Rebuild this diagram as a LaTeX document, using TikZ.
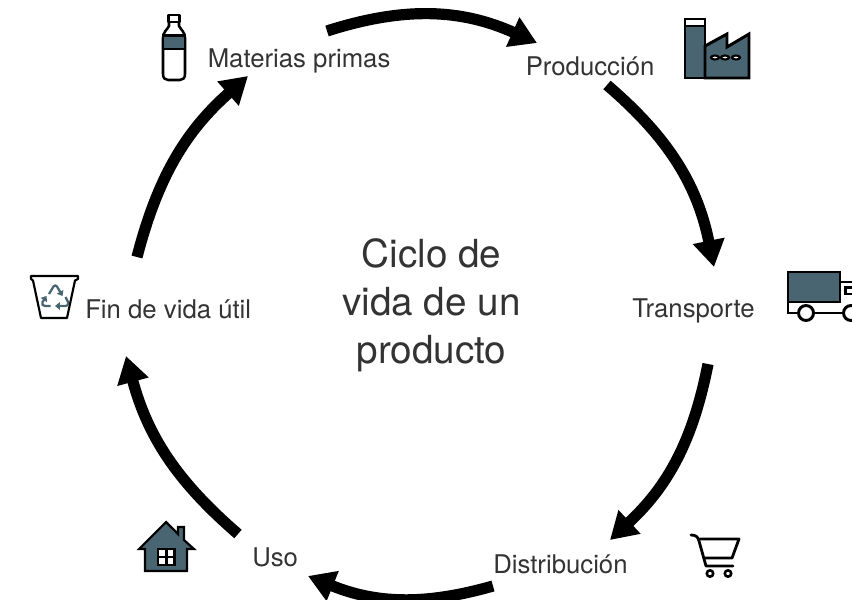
\documentclass[tikz,border=0pt]{standalone}
\usepackage{fontspec}
\setmainfont{TeX Gyre Heros}
\usetikzlibrary{arrows.meta}
\definecolor{slateblue}{HTML}{4A6572}
\tikzset{
  x=0.75pt,y=-0.75pt,
  lab/.style={font=\fontsize{19.3}{23}\selectfont,inner sep=0pt,text=black!80},
  ttl/.style={font=\fontsize{29}{36}\selectfont,inner sep=0pt,align=center,text=black!80},
  cyc/.style={line width=8.4pt,-{Triangle[length=20pt,width=23pt]}},
  ico/.style={draw=black,line width=2.2pt,line join=miter},
  fil/.style={ico,fill=slateblue},
  rec/.style={slateblue,line width=1.7pt,line join=round,-{Triangle[length=3.6pt,width=5.5pt]}},
}
\begin{document}
\begin{tikzpicture}
\useasboundingbox (0,0) rectangle (852,599);
\node[ttl] (title) at (431.5,305) {Ciclo de\\vida de un\\producto};
\node[lab,anchor=west] (mat) at (207.5,61) {Materias primas};
\node[lab,anchor=west] (pro) at (525.5,66.5) {Producción};
\node[lab,anchor=west] (tra) at (632,310.5) {Transporte};
\node[lab,anchor=west] (dis) at (493,564) {Distribución};
\node[lab,anchor=west] (uso) at (252,557.5) {Uso};
\node[lab,anchor=west] (fin) at (85,309) {Fin de vida útil};
\coordinate (a1) at (327,31); \coordinate (a2) at (537,43);
\coordinate (b1) at (607,85); \coordinate (b2) at (714,267);
\coordinate (c1) at (708,364); \coordinate (c2) at (610,540);
\coordinate (d1) at (493,586); \coordinate (d2) at (308,576);
\coordinate (e1) at (238,534); \coordinate (e2) at (126,356);
\coordinate (f1) at (137,257); \coordinate (f2) at (248,76);
\draw[cyc] (a1) to[bend left=21] (a2);
\draw[cyc] (b1) to[bend left=19] (b2);
\draw[cyc] (c1) to[bend left=18] (c2);
\draw[cyc] (d1) to[bend left=19] (d2);
\draw[cyc] (e1) to[bend left=17] (e2);
\draw[cyc] (f1) to[bend left=17] (f2);
% bottle
\draw[line width=1.9pt,line join=round] (168.5,15) rectangle (179.5,22);
\draw[line width=1.9pt,line join=round] (169,22) -- (169,26) .. controls (167,30) and (163,32) .. (163,38) -- (163,74) .. controls (163,78) and (165,80) .. (168,80) -- (180,80) .. controls (183,80) and (185,78) .. (185,74) -- (185,38) .. controls (185,32) and (181,30) .. (179,26) -- (179,22);
\draw[draw=black,line width=1.9pt,fill=slateblue] (163,35.5) rectangle (185,49);
% factory
\draw[fil] (685,19) rectangle (705,78);
\draw[ico,fill=white] (685,19) rectangle (705,26);
\draw[fil] (705,46) -- (727,34) -- (727,47) -- (749,34) -- (749,78) -- (705,78) -- cycle;
\foreach \px/\nm in {715/wa,725/wb,736/wc}{\draw[draw=black,line width=1.6pt,fill=white] (\px,57.5) ellipse [x radius=4,y radius=2];}
% truck
\draw[ico] (788,300) -- (788,313) -- (797,313);
\draw[ico] (815,313) -- (842,313);
\draw[ico] (840,282) -- (852,282);
\draw[ico] (845.5,287.5) rectangle (853,294);
\draw[fil] (788,272) rectangle (840,302);
\draw[ico,fill=white] (806,313) circle (7.5);
\draw[ico,fill=white] (851,313) circle (7.5);
% cart
\draw[line width=2.1pt,line cap=round,line join=round] (691,535) .. controls (696,535) and (698,537) .. (699,541) -- (706,566) -- (733,566);
\draw[line width=2.1pt,line cap=round,line join=round] (700,539) -- (739,539) -- (732,558) -- (705,558);
\draw[line width=1.9pt] (710,573.5) circle (3.2);
\draw[line width=1.9pt] (728,573.5) circle (3.2);
% house
\draw[fil,line width=1.6pt] (139,549) -- (166,522) -- (178,534) -- (178,527) -- (184,527) -- (184,540) -- (194,549) -- (187,549) -- (187,571) -- (145,571) -- (145,549) -- cycle;
\draw[draw=black,fill=white,line width=1.7pt] (158,549) rectangle (174.5,565);
\draw[black,line width=2.1pt] (166.2,549) -- (166.2,565) (158,557) -- (174.5,557);
% recycling bin
\draw[line width=1.6pt,line join=round] (31,276) -- (78,276) -- (78,279) -- (75,280.5) -- (67,318) -- (41,318) -- (33,280.5) -- (31,279) -- cycle;
\draw[rec] (49,294) -- (53.5,286.5) .. controls (54.5,285) and (56,285) .. (57,286.5) -- (62.5,296);
\draw[rec] (65.5,297) -- (68,302) .. controls (69,304.5) and (68,306) .. (65.5,306) -- (55,306);
\draw[rec] (50.5,306) -- (45,306) .. controls (42.5,306) and (41.5,304) .. (42.5,302) -- (46.5,296);
\end{tikzpicture}
\end{document}
